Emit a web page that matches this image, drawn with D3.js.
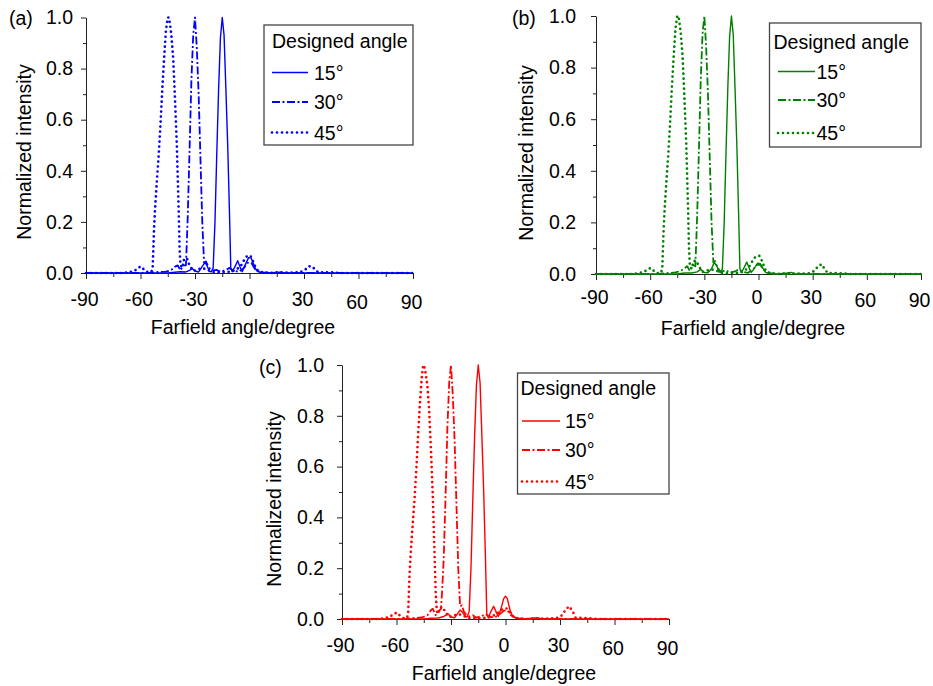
<!DOCTYPE html>
<html>
<head>
<meta charset="utf-8">
<script src="https://cdn.jsdelivr.net/npm/d3@7"></script>
<style>
  body { margin: 0; background: #fff; }
  text { font-family: "Liberation Sans", Arial, sans-serif; }
</style>
</head>
<body>
<svg id="chart" width="933" height="686"></svg>
<script>
// Axis ticks
const xTicks = [-90, -60, -30, 0, 30, 60, 90];
const xMinor = [-75, -45, -15, 15, 45, 75];
const yTicks = [0, 0.2, 0.4, 0.6, 0.8, 1.0];
const yMinor = [0.1, 0.3, 0.5, 0.7, 0.9];
const seriesNames = ["15°", "30°", "45°"];
const legendTitle = "Designed angle";

// Panel (a) - [farfield angle, normalized intensity]
const a15 = [[-90,0],[-45,0],[-41,0.003],[-38,0.005],[-35,0.004],[-33,0.01],[-31.5,0.018],[-30,0.008],[-28,0.004],[-26.5,0.02],[-24.5,0.042],[-23.5,0.03],[-22,0.006],[-21,0.005],[-20,0.02],[-19,0.2],[-18,0.47],[-17,0.72],[-16,0.92],[-15,1.0],[-14,0.93],[-13,0.72],[-12,0.5],[-11,0.23],[-10.3,0.02],[-9.5,0.005],[-8,0.025],[-6.5,0.048],[-5,0.02],[-4,0.005],[-2.5,0.03],[-0.5,0.06],[1,0.058],[2.5,0.03],[4,0.008],[6,0.002],[10,0],[17,0.003],[19,0],[90,0]];
const a30 = [[-90,0],[-55,0],[-50,0.004],[-46,0.005],[-43,0.012],[-41,0.025],[-39.5,0.03],[-38,0.01],[-36.5,0.03],[-35,0.03],[-34.5,0.12],[-34,0.22],[-33,0.48],[-32,0.75],[-31,0.93],[-30,1.0],[-29,0.88],[-28,0.7],[-27,0.45],[-26,0.2],[-25,0.04],[-24,0.045],[-23,0.03],[-21.5,0.015],[-20,0.01],[-18,0.012],[-16,0.005],[-13,0.012],[-11,0.02],[-9,0.01],[-6,0.004],[-3,0.02],[-1,0.04],[1,0.04],[3,0.015],[6,0.003],[12,0],[90,0]];
const a45 = [[-90,0],[-70,0],[-66,0.003],[-63,0.01],[-61,0.022],[-59.5,0.025],[-58,0.012],[-56,0.003],[-54,0.004],[-53.3,0.02],[-52.5,0.18],[-52,0.25],[-51,0.36],[-50,0.46],[-49,0.58],[-48,0.72],[-47,0.84],[-46,0.95],[-45,1.0],[-44.3,1.0],[-43.5,0.96],[-43,0.93],[-42,0.84],[-41,0.68],[-40,0.5],[-39,0.25],[-38.5,0.1],[-38,0.03],[-37,0.02],[-36,0.055],[-34.5,0.058],[-33,0.03],[-31,0.008],[-29,0.012],[-26,0.02],[-23,0.012],[-20,0.004],[-16,0.003],[-12,0.004],[-8,0.01],[-5,0.025],[-3,0.05],[-1.5,0.065],[0.5,0.068],[2,0.045],[3.5,0.02],[5,0.006],[8,0.002],[12,0],[16,0.003],[22,0.001],[28,0.003],[31,0.015],[32.5,0.026],[34.5,0.026],[36.5,0.01],[38,0.002],[44,0.003],[50,0],[90,0]];

// Panel (b)
const b15 = [[-90,0],[-45,0],[-41,0.004],[-37,0.004],[-34,0.008],[-32,0.018],[-30,0.006],[-28,0.005],[-26,0.02],[-24.5,0.045],[-23,0.03],[-22,0.008],[-21,0.006],[-20,0.02],[-19,0.2],[-18,0.47],[-17,0.72],[-16,0.92],[-15,1.0],[-14,0.93],[-13,0.72],[-12,0.5],[-11,0.23],[-10.3,0.02],[-9.5,0.005],[-8,0.025],[-6.5,0.046],[-5,0.02],[-4,0.006],[-2.5,0.02],[-0.5,0.042],[1,0.04],[2.5,0.022],[4,0.006],[6,0.002],[10,0],[16,0.004],[18,0.006],[20,0],[90,0]];
const b30 = [[-90,0],[-55,0],[-50,0.004],[-46,0.006],[-43,0.012],[-41,0.022],[-39.5,0.03],[-38,0.012],[-36.5,0.035],[-35,0.03],[-34.5,0.12],[-34,0.22],[-33,0.48],[-32,0.75],[-31,0.93],[-30,1.0],[-29,0.88],[-28,0.7],[-27,0.45],[-26,0.2],[-25,0.045],[-24,0.05],[-23,0.03],[-21.5,0.012],[-20,0.01],[-18,0.015],[-16,0.005],[-13,0.01],[-11,0.018],[-9,0.01],[-6,0.004],[-3,0.018],[-1,0.035],[1,0.035],[3,0.015],[6,0.003],[12,0],[90,0]];
const b45 = [[-90,0],[-70,0],[-66,0.003],[-63,0.01],[-61,0.02],[-59.5,0.023],[-58,0.012],[-56,0.003],[-54,0.004],[-53.3,0.02],[-52.5,0.18],[-52,0.25],[-51,0.36],[-50,0.46],[-49,0.58],[-48,0.72],[-47,0.84],[-46,0.95],[-45,1.0],[-44.3,1.0],[-43.5,0.96],[-43,0.93],[-42,0.84],[-41,0.68],[-40,0.5],[-39,0.25],[-38.5,0.1],[-38,0.03],[-37,0.02],[-36,0.05],[-34.5,0.052],[-33,0.03],[-31,0.008],[-29,0.012],[-26,0.018],[-23,0.012],[-20,0.004],[-16,0.003],[-12,0.004],[-8,0.01],[-5,0.03],[-3,0.055],[-1.5,0.068],[0.5,0.07],[2,0.05],[3.5,0.02],[5,0.006],[8,0.002],[12,0],[16,0.003],[22,0.001],[28,0.003],[31,0.012],[33,0.03],[35,0.038],[37,0.015],[38.5,0.003],[44,0.004],[50,0],[90,0]];

// Panel (c)
const c15 = [[-90,0],[-45,0],[-41,0.003],[-37,0.004],[-34,0.01],[-31.5,0.02],[-30,0.008],[-28,0.005],[-26.5,0.02],[-25,0.035],[-23.5,0.025],[-22,0.008],[-21,0.01],[-20,0.03],[-19,0.2],[-18,0.47],[-17,0.72],[-16,0.92],[-15,1.0],[-14,0.93],[-13,0.72],[-12,0.5],[-11,0.23],[-10.3,0.02],[-9.5,0.005],[-8,0.03],[-6.5,0.05],[-5,0.025],[-4,0.01],[-2.5,0.04],[-1,0.08],[0,0.09],[1,0.08],[2.5,0.035],[4,0.01],[6,0.003],[10,0],[16,0.004],[18,0.004],[20,0],[90,0]];
const c30 = [[-90,0],[-55,0],[-50,0.004],[-46,0.006],[-43,0.015],[-41,0.035],[-40,0.04],[-38.5,0.015],[-37,0.03],[-35.5,0.04],[-34.8,0.12],[-34,0.24],[-33,0.48],[-32,0.75],[-31,0.93],[-30,1.0],[-29,0.88],[-28,0.7],[-27,0.45],[-26,0.2],[-25,0.05],[-24,0.054],[-23,0.03],[-21.5,0.015],[-20,0.01],[-18,0.015],[-16,0.005],[-13,0.012],[-11,0.02],[-9,0.01],[-6,0.005],[-3,0.02],[-1,0.032],[1,0.035],[3,0.015],[6,0.003],[12,0],[90,0]];
const c45 = [[-90,0],[-70,0],[-66,0.003],[-63,0.012],[-61,0.022],[-59.5,0.025],[-58,0.012],[-56,0.003],[-54.2,0.004],[-53.6,0.02],[-52.8,0.18],[-52,0.28],[-51,0.38],[-50,0.48],[-49,0.6],[-48,0.74],[-47,0.86],[-46,0.96],[-45.3,1.0],[-44.6,0.99],[-44,0.97],[-43,0.92],[-42,0.82],[-41,0.66],[-40,0.48],[-39,0.24],[-38.4,0.1],[-37.8,0.03],[-37,0.02],[-36,0.045],[-34.5,0.047],[-33,0.025],[-31,0.008],[-29,0.012],[-26,0.02],[-23,0.012],[-20,0.004],[-16,0.003],[-12,0.004],[-8,0.008],[-5,0.02],[-3,0.03],[-1.5,0.04],[0.5,0.042],[2,0.03],[3.5,0.015],[5,0.005],[8,0.002],[12,0],[16,0.003],[22,0.001],[28,0.003],[31,0.014],[33,0.035],[35,0.05],[37,0.03],[38.5,0.006],[44,0.004],[50,0],[90,0]];

// Layout of the three panels
const panels = [
  { label: "(a)", labelX: 9, labelY: 25, color: "#0000ff", series: [a15, a30, a45],
    left: 86, right: 413, top: 17.5, bottom: 273, yPad: 8, xPad: 13,
    yTitleX: 31, yTitleY: 152, xTitleX: 243, xTitleY: 334,
    box: [264, 25, 149, 120], legTitleX: 272, legTitleY: 48,
    legX1: 272, legX2: 308, legTextX: 314, legY: [72.5, 102, 132.5] },
  { label: "(b)", labelX: 512, labelY: 25, color: "#008000", series: [b15, b30, b45],
    left: 596, right: 921, top: 16, bottom: 274, yPad: 15, xPad: 10,
    yTitleX: 533, yTitleY: 153, xTitleX: 753, xTitleY: 335,
    box: [769.5, 23, 151.5, 124], legTitleX: 773.5, legTitleY: 48.5,
    legX1: 778, legX2: 815, legTextX: 816.5, legY: [71.5, 100, 133] },
  { label: "(c)", labelX: 259, labelY: 373.5, color: "#ff0000", series: [c15, c30, c45],
    left: 342, right: 669, top: 365, bottom: 619, yPad: 13, xPad: 13,
    yTitleX: 280.5, yTitleY: 499, xTitleX: 504, xTitleY: 680,
    box: [517.5, 373, 151.5, 121], legTitleX: 520.5, legTitleY: 395,
    legX1: 522, legX2: 560, legTextX: 565, legY: [421, 450, 481.5] }
];

// Line styles: solid, dash-dot, dotted
const styles = [
  { width: 1.4, dash: null, cap: "butt" },
  { width: 1.8, dash: "8 2.5 2 2.5", cap: "butt" },
  { width: 2.7, dash: "0 5", cap: "round" }
];

const svg = d3.select("#chart");
const axisColor = "#222";
const fontSize = 19.5;

panels.forEach(drawPanel);

function drawPanel(p) {
  const x = d3.scaleLinear().domain([-90, 90]).range([p.left, p.right]);
  const y = d3.scaleLinear().domain([0, 1]).range([p.bottom, p.top]);
  const g = svg.append("g");

  // minor ticks
  g.append("g")
    .attr("transform", `translate(0,${p.bottom})`)
    .call(d3.axisBottom(x).tickValues(xMinor).tickSize(4).tickFormat(""))
    .call(s => s.select(".domain").remove());
  g.append("g")
    .attr("transform", `translate(${p.left},0)`)
    .call(d3.axisLeft(y).tickValues(yMinor).tickSize(3).tickFormat(""))
    .call(s => s.select(".domain").remove());

  // major ticks + labels
  const xAxis = g.append("g")
    .attr("transform", `translate(0,${p.bottom})`)
    .call(d3.axisBottom(x).tickValues(xTicks).tickSize(6).tickSizeOuter(0)
      .tickPadding(p.xPad).tickFormat(d => String(d)));
  xAxis.selectAll("text")
    .attr("dx", -2)
    .attr("dy", d => d >= 60 ? "0.86em" : "0.71em");

  g.append("g")
    .attr("transform", `translate(${p.left},0)`)
    .call(d3.axisLeft(y).tickValues(yTicks).tickSize(5).tickSizeOuter(0)
      .tickPadding(p.yPad).tickFormat(d3.format(".1f")));

  g.selectAll(".tick line, .domain").attr("stroke", axisColor);
  g.selectAll(".tick text").attr("fill", "#000").style("font-size", fontSize + "px")
    .style("font-family", '"Liberation Sans", Arial, sans-serif');

  // curves
  const line = d3.line().x(d => x(d[0])).y(d => y(d[1]));
  [2, 1, 0].forEach(i => {
    const st = styles[i];
    g.append("path")
      .datum(p.series[i])
      .attr("d", line)
      .attr("fill", "none")
      .attr("stroke", p.color)
      .attr("stroke-width", st.width)
      .attr("stroke-linecap", st.cap)
      .attr("stroke-linejoin", "round")
      .attr("stroke-dasharray", st.dash);
  });

  // titles
  g.append("text")
    .attr("transform", `translate(${p.yTitleX},${p.yTitleY}) rotate(-90)`)
    .attr("text-anchor", "middle")
    .style("font-size", fontSize + "px")
    .text("Normalized intensity");
  g.append("text")
    .attr("x", p.xTitleX).attr("y", p.xTitleY)
    .attr("text-anchor", "middle")
    .style("font-size", fontSize + "px")
    .text("Farfield angle/degree");
  g.append("text")
    .attr("x", p.labelX).attr("y", p.labelY)
    .style("font-size", fontSize + "px")
    .text(p.label);

  // legend
  const leg = g.append("g");
  leg.append("rect")
    .attr("x", p.box[0]).attr("y", p.box[1])
    .attr("width", p.box[2]).attr("height", p.box[3])
    .attr("fill", "#fff").attr("stroke", "#444").attr("stroke-width", 1.3);
  leg.append("text")
    .attr("x", p.legTitleX).attr("y", p.legTitleY)
    .style("font-size", fontSize + "px")
    .text(legendTitle);
  seriesNames.forEach((name, i) => {
    const st = styles[i];
    leg.append("line")
      .attr("x1", p.legX1).attr("x2", p.legX2)
      .attr("y1", p.legY[i]).attr("y2", p.legY[i])
      .attr("stroke", p.color)
      .attr("stroke-width", st.width)
      .attr("stroke-linecap", st.cap)
      .attr("stroke-dasharray", st.dash);
    leg.append("text")
      .attr("x", p.legTextX).attr("y", p.legY[i])
      .attr("dy", "0.36em")
      .style("font-size", fontSize + "px")
      .text(name);
  });
}
</script>
</body>
</html>
